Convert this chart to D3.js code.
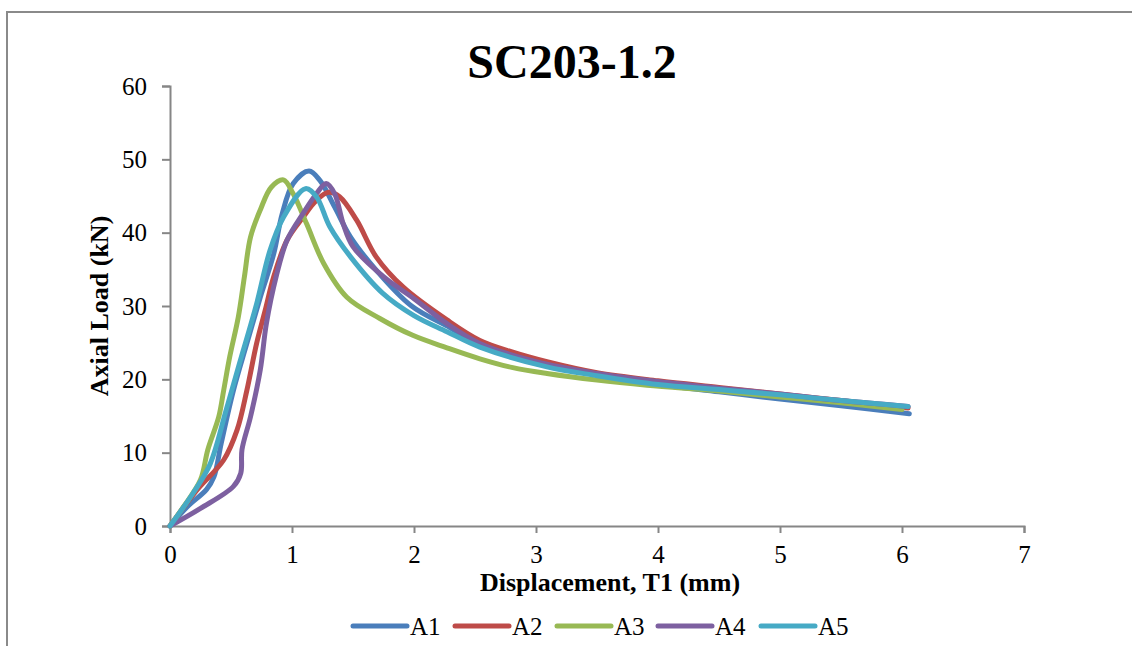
<!DOCTYPE html>
<html><head><meta charset="utf-8">
<script src="https://cdn.jsdelivr.net/npm/d3@7"></script>
<style>html,body{margin:0;padding:0;background:#fff;}</style>
</head><body>
<svg id="chart" width="1132" height="646"></svg>
<script>
const title = "SC203-1.2";
const xTitle = "Displacement, T1 (mm)";
const yTitle = "Axial Load (kN)";
const xTicks = [0,1,2,3,4,5,6,7];
const yTicks = [0,10,20,30,40,50,60];
const seriesNames = ["A1","A2","A3","A4","A5"];
const seriesColors = ["#4A7EBB","#BE4B48","#98B954","#7D60A0","#46AAC5"];

const a1X = [0,0.14,0.30,0.36,0.42,0.52,0.63,0.74,0.85,0.92,1.01,1.14,1.23,1.35,1.48,1.69,1.98,2.3,2.5,3,3.5,4,4.5,5,5.5,6.06];
const a1Y = [0,2.6,5.0,6.7,11.3,18.5,24.9,31.2,37.1,42.6,46.7,48.4,47.1,43.5,39.4,34.9,30.0,27.0,25.0,22.3,20.6,19.3,18.3,17.3,16.4,15.3];

const a2X = [0,0.22,0.44,0.55,0.63,0.71,0.78,0.85,0.96,1.09,1.20,1.30,1.39,1.53,1.69,1.91,2.27,2.54,2.81,3.09,3.5,4,4.5,5,5.5,6.05];
const a2Y = [0,4.9,9.0,13.1,18.5,24.9,29.4,34.0,39.0,42.1,44.4,45.5,44.9,41.7,36.7,32.6,28.1,25.3,23.7,22.4,20.9,19.8,18.9,18.0,17.1,16.1];

const a3X = [0,0.11,0.25,0.31,0.40,0.44,0.49,0.56,0.61,0.66,0.74,0.83,0.93,1.01,1.12,1.26,1.45,1.72,1.99,2.27,2.54,2.81,3.09,3.5,3.91,4.5,5,5.5,6.0];
const a3Y = [0,2.6,6.3,10.4,14.9,18.5,23.1,28.5,34.0,39.4,43.1,46.2,47.2,45.3,41.2,35.8,31.2,28.3,26.0,24.3,22.8,21.6,20.8,19.9,19.2,18.4,17.6,16.8,15.9];

const a4X = [0,0.25,0.52,0.58,0.59,0.66,0.74,0.79,0.87,0.96,1.09,1.20,1.28,1.35,1.42,1.50,1.75,2.0,2.27,2.54,3,3.5,4,4.5,5,5.5,6.05];
const a4Y = [0,2.4,5.4,7.2,10.4,14.9,21.3,27.6,34.0,39.0,42.6,45.3,46.7,45.3,41.2,38.1,34.0,31.0,27.6,24.9,22.4,20.8,19.7,18.8,18.0,17.1,16.3];

const a5X = [0,0.19,0.33,0.46,0.57,0.71,0.82,0.93,1.11,1.20,1.31,1.48,1.74,2.0,2.27,2.54,3.09,3.5,4,4.5,5,5.5,6.05];
const a5Y = [0,4.5,8.5,15.8,22.2,30.3,37.6,42.1,46.0,44.9,40.8,36.7,31.8,28.7,26.5,24.4,21.7,20.5,19.3,18.6,17.9,17.1,16.3];

const seriesX = [a1X,a2X,a3X,a4X,a5X];
const seriesY = [a1Y,a2Y,a3Y,a4Y,a5Y];

const svg = d3.select("#chart");
const font = "'Liberation Serif','Times New Roman',serif";
const axisColor = "#868686";

// outer frame
svg.append("rect").attr("x",7).attr("y",12).attr("width",1200).attr("height",700)
  .attr("fill","none").attr("stroke","#8a8a8a").attr("stroke-width",2);

const x = d3.scaleLinear().domain([0,7]).range([170,1024]);
const y = d3.scaleLinear().domain([0,60]).range([526,86]);

// axes
const xAxis = svg.append("g").attr("transform","translate(0,526)")
  .call(d3.axisBottom(x).tickValues(xTicks).tickFormat(d3.format("d")).tickSizeOuter(0).tickSize(7).tickPadding(12));
const yAxis = svg.append("g").attr("transform","translate(170,0)")
  .call(d3.axisLeft(y).tickValues(yTicks).tickFormat(d3.format("d")).tickSizeOuter(0).tickSize(8).tickPadding(15));
[xAxis,yAxis].forEach(g=>{
  g.select(".domain").attr("stroke",axisColor).attr("stroke-width",2);
  g.selectAll(".tick line").attr("stroke",axisColor).attr("stroke-width",2);
  g.selectAll(".tick text").attr("fill","#000").style("font-family",font).style("font-size","25px");
});

// lines
const line = d3.line().x(d=>x(d[0])).y(d=>y(d[1])).curve(d3.curveCatmullRom.alpha(0.5));
seriesNames.forEach((name,i)=>{
  const pts = seriesX[i].map((v,j)=>[v,seriesY[i][j]]);
  svg.append("path").datum(pts).attr("d",line)
    .attr("fill","none").attr("stroke",seriesColors[i]).attr("stroke-width",5)
    .attr("stroke-linecap","round").attr("stroke-linejoin","round");
});

// titles
svg.append("text").attr("x",572).attr("y",78).attr("text-anchor","middle")
  .style("font-family",font).style("font-weight","bold").style("font-size","48px").text(title);
svg.append("text").attr("x",610).attr("y",591).attr("text-anchor","middle")
  .style("font-family",font).style("font-weight","bold").style("font-size","26px").text(xTitle);
svg.append("text").attr("transform","translate(108,306) rotate(-90)").attr("text-anchor","middle")
  .style("font-family",font).style("font-weight","bold").style("font-size","26px").text(yTitle);

// legend
const legStart = [353,455,557,658,761];
seriesNames.forEach((name,i)=>{
  const g = svg.append("g").attr("transform",`translate(${legStart[i]},626)`);
  g.append("line").attr("x1",0).attr("x2",54).attr("y1",0).attr("y2",0)
    .attr("stroke",seriesColors[i]).attr("stroke-width",5).attr("stroke-linecap","round");
  g.append("text").attr("x",57).attr("y",9).style("font-family",font).style("font-size","25px").text(name);
});
</script>
</body></html>
